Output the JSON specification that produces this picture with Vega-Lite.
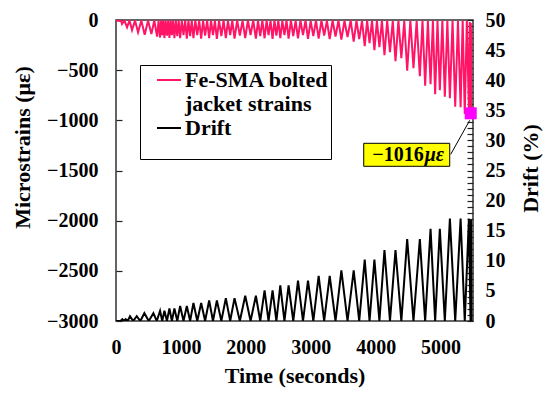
{
  "$schema": "https://vega.github.io/schema/vega-lite/v6.json",
  "width": 357,
  "height": 301,
  "autosize": {"type": "none"},
  "padding": {"left": 116, "top": 20, "right": 77, "bottom": 77},
  "background": "white",
  "config": {
    "view": {"stroke": "#333333", "strokeWidth": 1.5},
    "axis": {
      "labelFont": "Liberation Serif", "labelFontWeight": "bold", "labelFontSize": 20, "labelColor": "black",
      "titleFont": "Liberation Serif", "titleFontWeight": "bold", "titleFontSize": 22, "titleColor": "black",
      "grid": false, "domain": false, "labelOverlap": false, "labelFlush": false
    }
  },
  "datasets": {
    "strain": [
      {"t":0,"s":-5},{"t":60,"s":-10},{"t":75,"s":0},{"t":93,"s":-40},{"t":130,"s":-5},{"t":170,"s":-73},{"t":208,"s":-5},{"t":247,"s":-100},{"t":293,"s":-5},{"t":340,"s":-123},{"t":390,"s":-5},{"t":442,"s":-146},{"t":494,"s":-5},{"t":545,"s":-140},{"t":590,"s":-5},{"t":633,"s":-166},{"t":656,"s":-8},
      {"t":679,"s":-175},{"t":695,"s":-5},{"t":712,"s":-150},{"t":729,"s":-5},{"t":746,"s":-180},{"t":765,"s":-8},{"t":785,"s":-155},{"t":804,"s":-5},{"t":823,"s":-178},{"t":842,"s":-5},{"t":861,"s":-150},{"t":880,"s":-8},{"t":900,"s":-182},{"t":922,"s":-5},{"t":944,"s":-160},{"t":966,"s":-5},{"t":988,"s":-180},{"t":1014,"s":-8},{"t":1040,"s":-150},{"t":1065,"s":-5},{"t":1091,"s":-185},{"t":1116,"s":-5},{"t":1142,"s":-160},{"t":1167,"s":-8},{"t":1193,"s":-180},{"t":1222,"s":-5},{"t":1252,"s":-150},{"t":1282,"s":-5},{"t":1312,"s":-185},{"t":1342,"s":-8},{"t":1373,"s":-155},{"t":1404,"s":-5},{"t":1435,"s":-182},{"t":1464,"s":-5},{"t":1494,"s":-150},{"t":1524,"s":-8},{"t":1554,"s":-188},{"t":1588,"s":-5},{"t":1623,"s":-160},{"t":1657,"s":-5},{"t":1692,"s":-180},{"t":1725,"s":-8},{"t":1759,"s":-150},{"t":1792,"s":-5},{"t":1826,"s":-185},{"t":1867,"s":-5},{"t":1908,"s":-155},{"t":1950,"s":-8},{"t":1991,"s":-180},{"t":2032,"s":-5},{"t":2073,"s":-150},{"t":2114,"s":-5},{"t":2155,"s":-185},{"t":2188,"s":-8},{"t":2222,"s":-160},{"t":2255,"s":-5},{"t":2289,"s":-182},{"t":2320,"s":-5},{"t":2350,"s":-150},{"t":2381,"s":-8},{"t":2412,"s":-188},{"t":2441,"s":-5},{"t":2471,"s":-155},{"t":2501,"s":-5},{"t":2531,"s":-180},{"t":2563,"s":-8},{"t":2595,"s":-150},{"t":2627,"s":-5},{"t":2659,"s":-186},{"t":2695,"s":-5},{"t":2731,"s":-160},{"t":2767,"s":-8},{"t":2804,"s":-182},{"t":2842,"s":-5},{"t":2881,"s":-150},{"t":2920,"s":-5},{"t":2958,"s":-188},{"t":2999,"s":-8},{"t":3040,"s":-160},{"t":3081,"s":-5},{"t":3122,"s":-185},{"t":3165,"s":-5},{"t":3207,"s":-155},{"t":3250,"s":-8},{"t":3292,"s":-190},{"t":3337,"s":-5},{"t":3382,"s":-165},{"t":3427,"s":-5},{"t":3472,"s":-195},{"t":3520,"s":-8},{"t":3567,"s":-170},{"t":3615,"s":-5},{"t":3662,"s":-215},{"t":3705,"s":-5},{"t":3747,"s":-190},{"t":3790,"s":-8},{"t":3832,"s":-260},{"t":3869,"s":-5},{"t":3906,"s":-230},{"t":3944,"s":-5},{"t":3981,"s":-300},{"t":4020,"s":-8},{"t":4058,"s":-270},{"t":4097,"s":-5},{"t":4136,"s":-350},{"t":4178,"s":-5},{"t":4221,"s":-320},{"t":4264,"s":-10},{"t":4306,"s":-410},{"t":4351,"s":-5},{"t":4396,"s":-380},{"t":4441,"s":-10},{"t":4486,"s":-505},{"t":4535,"s":-5},{"t":4583,"s":-480},{"t":4632,"s":-10},{"t":4681,"s":-560},{"t":4722,"s":-5},{"t":4763,"s":-655},{"t":4805,"s":-10},{"t":4846,"s":-640},{"t":4882,"s":-5},{"t":4917,"s":-740},{"t":4953,"s":-10},{"t":4989,"s":-700},{"t":5028,"s":-5},{"t":5066,"s":-765},{"t":5105,"s":-10},{"t":5144,"s":-780},{"t":5185,"s":-5},{"t":5226,"s":-865},{"t":5268,"s":-10},{"t":5309,"s":-870},{"t":5341,"s":-5},{"t":5373,"s":-937},{"t":5405,"s":-10},{"t":5437,"s":-900},{"t":5450,"s":-20},{"t":5462,"s":-945},{"t":5467,"s":-30},{"t":5472,"s":-880},{"t":5475,"s":-100}
    ],
    "drift": [
      {"t":0,"d":0},{"t":70,"d":0},{"t":98,"d":0.3},{"t":124,"d":0},{"t":149,"d":0.3},{"t":180,"d":0},{"t":216,"d":0.8},{"t":265,"d":0},{"t":319,"d":0.8},{"t":375,"d":0},{"t":437,"d":1.3},{"t":505,"d":0},{"t":576,"d":1.3},{"t":628,"d":0},{"t":679,"d":1.7},{"t":712,"d":0},{"t":746,"d":1.7},{"t":785,"d":0},{"t":823,"d":2.1},{"t":861,"d":0},{"t":900,"d":2.1},{"t":944,"d":0},{"t":988,"d":2.5},{"t":1040,"d":0},{"t":1091,"d":2.5},{"t":1142,"d":0},{"t":1193,"d":3.0},{"t":1252,"d":0},{"t":1312,"d":3.0},{"t":1373,"d":0},{"t":1435,"d":3.4},{"t":1494,"d":0},{"t":1554,"d":3.4},{"t":1623,"d":0},{"t":1692,"d":3.8},{"t":1759,"d":0},{"t":1826,"d":3.8},{"t":1908,"d":0},{"t":1991,"d":4.2},{"t":2073,"d":0},{"t":2155,"d":4.2},{"t":2222,"d":0},{"t":2289,"d":5.1},{"t":2350,"d":0},{"t":2412,"d":5.1},{"t":2471,"d":0},{"t":2531,"d":5.9},{"t":2595,"d":0},{"t":2659,"d":5.9},{"t":2731,"d":0},{"t":2804,"d":6.7},{"t":2881,"d":0},{"t":2958,"d":6.7},{"t":3040,"d":0},{"t":3122,"d":7.5},{"t":3207,"d":0},{"t":3292,"d":7.5},{"t":3382,"d":0},{"t":3472,"d":8.4},{"t":3567,"d":0},{"t":3662,"d":8.4},{"t":3747,"d":0},{"t":3832,"d":10.2},{"t":3906,"d":0},{"t":3981,"d":10.2},{"t":4058,"d":0},{"t":4136,"d":11.8},{"t":4221,"d":0},{"t":4306,"d":11.8},{"t":4396,"d":0},{"t":4486,"d":13.6},{"t":4583,"d":0},{"t":4681,"d":13.6},{"t":4763,"d":0},{"t":4846,"d":15.3},{"t":4917,"d":0},{"t":4989,"d":15.3},{"t":5066,"d":0},{"t":5144,"d":17.0},{"t":5226,"d":0},{"t":5309,"d":17.0},{"t":5373,"d":0},{"t":5437,"d":17.0},{"t":5462,"d":0},{"t":5470,"d":16.8},{"t":5475,"d":0}
    ],
    "peak": [
      {"t": 5465, "s": -930, "label": "−1016"}
    ]
  },
  "layer": [
    {
      "layer": [
        {
          "data": {"name": "strain"},
          "mark": {"type": "line", "strokeWidth": 2, "clip": true},
          "encoding": {
            "x": {"field": "t", "type": "quantitative", "scale": {"domain": [0, 5500], "nice": false},
              "axis": {"values": [0, 1000, 2000, 3000, 4000, 5000], "ticks": false, "labelPadding": 16, "labelOverlap": false, "title": "Time (seconds)", "titlePadding": 8, "format": "d"}},
            "y": {"field": "s", "type": "quantitative", "scale": {"domain": [-3000, 0], "nice": false},
              "axis": {"orient": "left", "format": "d", "offset": -6, "labelOverlap": false,
                "values": [-3000, -2500, -2000, -1500, -1000, -500, 0],
                "ticks": true, "tickSize": 6, "tickWidth": 1.2, "tickColor": "#222222", "tickOpacity": 1, "labelPadding": 18,
                "title": "Microstrains (με)", "titleX": -100, "titleY": 127, "titleAngle": -90, "titleBaseline": "middle", "titleAlign": "center"}},
            "color": {"datum": "Fe-SMA bolted jacket strains", "type": "nominal",
              "scale": {"domain": ["Fe-SMA bolted jacket strains", "Drift"], "range": ["#ff1466", "#000000"]},
              "legend": {"orient": "none", "legendX": 24, "legendY": 45, "title": null, "direction": "vertical",
                "strokeColor": "black", "fillColor": "white", "padding": 2, "rowPadding": 0,
                "symbolType": "stroke", "symbolSize": 576, "symbolStrokeWidth": 2, "symbolOffset": 14,
                "labelFont": "Liberation Serif", "labelFontWeight": "bold", "labelFontSize": 22, "labelColor": "black",
                "labelLimit": 400, "labelOffset": 3, "labelBaseline": "middle",
                "labelExpr": "datum.value == 'Drift' ? ['Drift', '\u00a0'] : ['Fe-SMA bolted', 'jacket strains']",
                "encode": {"labels": {"update": {"lineHeight": {"signal": "datum.value == 'Drift' ? 18 : 24"}}}}}}
          }
        },
        {
          "data": {"name": "peak"},
          "mark": {"type": "rect", "fill": "#ffff00", "stroke": "black", "strokeWidth": 1, "xOffset": -107, "x2Offset": -21, "yOffset": 30, "y2Offset": 53},
          "encoding": {
            "x": {"field": "t", "type": "quantitative"},
            "x2": {"field": "t"},
            "y": {"field": "s", "type": "quantitative"},
            "y2": {"field": "s"}
          }
        },
        {
          "data": {"name": "peak"},
          "mark": {"type": "rule", "stroke": "black", "strokeWidth": 1, "xOffset": -20, "yOffset": 41, "x2Offset": -1, "y2Offset": 7},
          "encoding": {
            "x": {"field": "t", "type": "quantitative"},
            "x2": {"field": "t"},
            "y": {"field": "s", "type": "quantitative"},
            "y2": {"field": "s"}
          }
        },
        {
          "data": {"name": "peak"},
          "mark": {"type": "text", "font": "Liberation Serif", "fontWeight": "bold", "fontSize": 20, "align": "right", "baseline": "middle", "dx": -47, "dy": 42, "color": "black"},
          "encoding": {
            "x": {"field": "t", "type": "quantitative"},
            "y": {"field": "s", "type": "quantitative"},
            "text": {"field": "label"}
          }
        },
        {
          "data": {"name": "peak"},
          "mark": {"type": "text", "font": "Liberation Serif", "fontWeight": "bold", "fontStyle": "italic", "fontSize": 20, "align": "left", "baseline": "middle", "dx": -46, "dy": 42, "color": "black"},
          "encoding": {
            "x": {"field": "t", "type": "quantitative"},
            "y": {"field": "s", "type": "quantitative"},
            "text": {"value": "με"}
          }
        },
        {
          "data": {"name": "peak"},
          "mark": {"type": "point", "shape": "square", "size": 144, "filled": true, "color": "#ff00ff", "opacity": 1},
          "encoding": {
            "x": {"field": "t", "type": "quantitative"},
            "y": {"field": "s", "type": "quantitative"}
          }
        }
      ]
    },
    {
      "data": {"name": "drift"},
      "mark": {"type": "line", "strokeWidth": 2, "clip": true},
      "encoding": {
        "x": {"field": "t", "type": "quantitative"},
        "y": {"field": "d", "type": "quantitative", "scale": {"domain": [0, 50], "nice": false},
          "axis": {"orient": "right", "format": "d", "offset": -6, "labelOverlap": false,
            "values": [0,1,2,3,4,5,6,7,8,9,10,11,12,13,14,15,16,17,18,19,20,21,22,23,24,25,26,27,28,29,30,31,32,33,34,35,36,37,38,39,40,41,42,43,44,45,46,47,48,49,50],
            "labelExpr": "datum.value % 5 == 0 ? datum.label : ''",
            "ticks": true, "tickSize": 6, "tickWidth": 1.2, "tickColor": "#222222", "tickOpacity": 1, "labelPadding": 12,
            "title": "Drift (%)", "titleX": 63, "titleY": 148, "titleAngle": -90, "titleBaseline": "middle", "titleAlign": "center"}},
        "color": {"datum": "Drift", "type": "nominal"}
      }
    }
  ],
  "resolve": {"scale": {"y": "independent"}}
}
